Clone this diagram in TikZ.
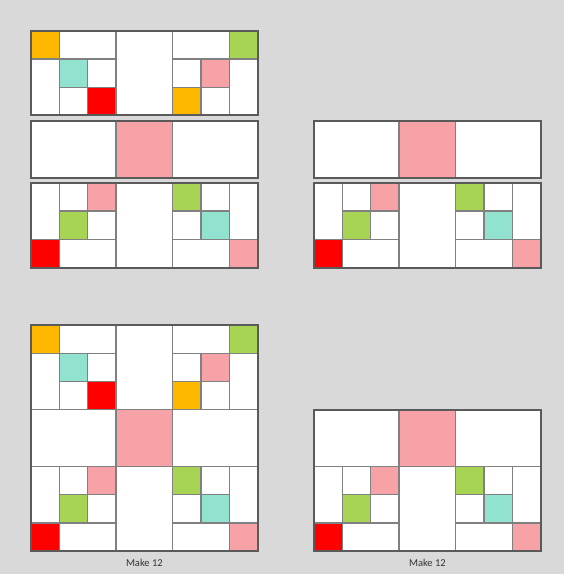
\documentclass[tikz,border=0pt]{standalone}
\usepackage{fontspec}
\setmainfont{Carlito}
\definecolor{bg}{RGB}{217,217,217}
\definecolor{edgegray}{RGB}{128,128,128}
\definecolor{framegray}{RGB}{90,90,90}
\definecolor{orng}{RGB}{255,184,0}
\definecolor{lime}{RGB}{168,212,84}
\definecolor{aqua}{RGB}{146,226,208}
\definecolor{rose}{RGB}{247,162,166}
\definecolor{scarlet}{RGB}{255,0,0}
\tikzset{
  piece/.style={draw=edgegray,line width=1.3pt},
  outline/.style={draw=framegray,line width=2pt},
  caption/.style={font=\fontsize{10.5}{12}\selectfont,text=black!80},
  % three rows of patches with corner squares
  topband/.pic={
    \foreach \c/\x/\y/\w/\h in {orng/0/2/1/1,white/1/2/2/1,white/0/0/1/2,aqua/1/1/1/1,
      white/2/1/1/1,white/1/0/1/1,scarlet/2/0/1/1,white/3/0/2/3,white/5/2/2/1,
      lime/7/2/1/1,white/7/0/1/2,white/5/1/1/1,rose/6/1/1/1,orng/5/0/1/1,white/6/0/1/1}
      \draw[piece,fill=\c] (\x,\y) rectangle ++(\w,\h);
  },
  % the centre strip
  midband/.pic={
    \foreach \c/\x/\w in {white/0/3,rose/3/2,white/5/3}
      \draw[piece,fill=\c] (\x,0) rectangle ++(\w,2);
  },
  lowband/.pic={
    \foreach \c/\x/\y/\w/\h in {white/0/1/1/2,white/1/2/1/1,rose/2/2/1/1,lime/1/1/1/1,
      white/2/1/1/1,scarlet/0/0/1/1,white/1/0/2/1,white/3/0/2/3,lime/5/2/1/1,
      white/6/2/1/1,white/5/1/1/1,aqua/6/1/1/1,white/7/1/1/2,white/5/0/2/1,rose/7/0/1/1}
      \draw[piece,fill=\c] (\x,\y) rectangle ++(\w,\h);
  },
}
\begin{document}
\begin{tikzpicture}[x=28.3pt,y=28.3pt]
  \fill[bg] (0,0) rectangle (19.93,20.28);
  % upper left, bands apart
  \pic at (1.1,16.2) {topband};
  \draw[outline] (1.1,16.2) rectangle ++(8,3);
  \pic at (1.1,14) {midband};
  \draw[outline] (1.1,14) rectangle ++(8,2);
  \pic at (1.1,10.82) {lowband};
  \draw[outline] (1.1,10.82) rectangle ++(8,3);
  % upper right
  \pic at (11.1,14) {midband};
  \draw[outline] (11.1,14) rectangle ++(8,2);
  \pic at (11.1,10.82) {lowband};
  \draw[outline] (11.1,10.82) rectangle ++(8,3);
  % lower left, sewn together
  \pic at (1.1,5.8) {topband};
  \pic at (1.1,3.8) {midband};
  \pic at (1.1,0.8) {lowband};
  \draw[outline] (1.1,0.8) rectangle ++(8,8);
  % lower right
  \pic at (11.1,3.8) {midband};
  \pic at (11.1,0.8) {lowband};
  \draw[outline] (11.1,0.8) rectangle ++(8,5);
  \node[caption] (makeleft) at (5.1,0.4) {Make 12};
  \node[caption] (makeright) at (15.1,0.4) {Make 12};
\end{tikzpicture}
\end{document}
